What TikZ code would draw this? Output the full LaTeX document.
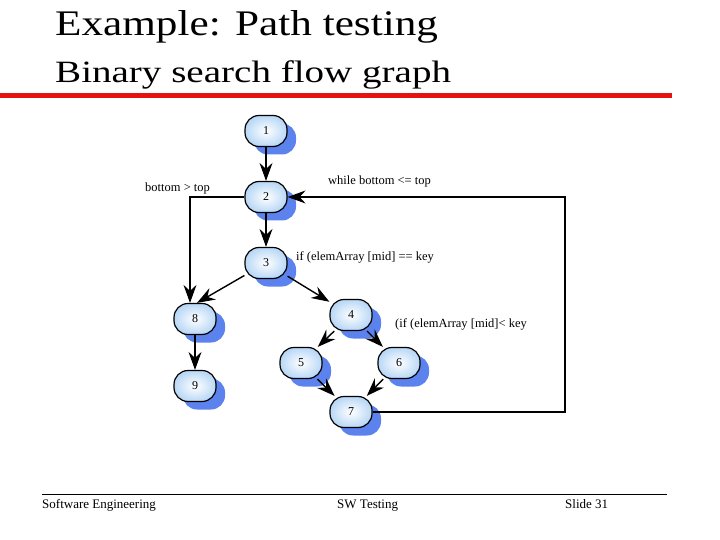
\documentclass[tikz,border=0pt]{standalone}
\usepackage{fontspec}
\setmainfont{Liberation Serif}
\usetikzlibrary{arrows.meta,shadows,calc}
\definecolor{shadowblue}{RGB}{92,130,238}
\definecolor{nodeblue}{RGB}{185,216,246}
\definecolor{slidered}{RGB}{228,18,18}
\tikzset{
  fg/.style={rectangle,rounded corners=14pt,minimum width=42pt,minimum height=31pt,inner sep=0pt,
    draw=black,line width=1.2pt,inner color=white,outer color=nodeblue,
    drop shadow={shadow xshift=9pt,shadow yshift=-8pt,fill=shadowblue,opacity=1},
    font=\fontsize{12}{12}\selectfont},
  edge/.style={line width=1.4pt,-{Stealth[length=18pt,width=13pt,inset=6pt]}},
  lbl/.style={inner sep=0pt,font=\fontsize{12.5}{12.5}\selectfont},
  foot/.style={inner sep=0pt,anchor=base west,font=\fontsize{13}{13}\selectfont}
}
\begin{document}
\begin{tikzpicture}[x=1pt,y=1pt]
\useasboundingbox (0,0) rectangle (720,-540);
% titles
\node[inner sep=0pt,anchor=base west] (title) at (55,-36) {\fontsize{36}{36}\selectfont\scalebox{1.2}[1]{Example: Path testing}};
\node[inner sep=0pt,anchor=base west] (sub) at (55,-83) {\fontsize{31}{31}\selectfont\scalebox{1.26}[1]{Binary search flow graph}};
\draw[slidered,line width=5pt] (0,-95.5) -- (672,-95.5);
% nodes
\node[fg] (n1) at (266,-131) {1};
\node[fg] (n2) at (266,-197) {2};
\node[fg] (n3) at (266,-263) {3};
\node[fg] (n8) at (195,-319) {8};
\node[fg] (n9) at (195,-386) {9};
\node[fg] (n4) at (351,-315) {4};
\node[fg] (n5) at (301,-363) {5};
\node[fg] (n6) at (399,-363) {6};
\node[fg] (n7) at (351,-412) {7};
% edges
\draw[edge] (n1) -- (n2);
\draw[edge] (n2) -- (n3);
\draw[edge] (n2.west) -| ([xshift=-5pt]n8.north);
\draw[edge] (n3) -- ([xshift=2pt]n8.north);
\draw[edge] (n3) -- (n4);
\draw[edge] (n4) -- (n5);
\draw[edge] (n4) -- (n6);
\draw[edge] (n5) -- (n7);
\draw[edge] (n6) -- (n7);
\draw[edge] (n8) -- (n9);
\coordinate (loopc) at (565,-412);
\draw[edge] (n7.east) -- (loopc) |- (n2.east);
% labels
\node[lbl,anchor=west] (l1) at (145,-188) {bottom > top};
\node[lbl,anchor=west] (l2) at (328,-181) {while bottom <= top};
\node[lbl,anchor=west] (l3) at (296,-257) {if (elemArray [mid] == key};
\node[lbl,anchor=west] (l4) at (395,-324) {(if (elemArray [mid]< key};
% footer
\draw[line width=0.8pt] (42,-494) -- (667,-494);
\node[foot] (f1) at (42,-508) {Software Engineering};
\node[foot] (f2) at (337,-508) {SW Testing};
\node[foot] (f3) at (565,-508) {Slide  31};
\end{tikzpicture}
\end{document}
